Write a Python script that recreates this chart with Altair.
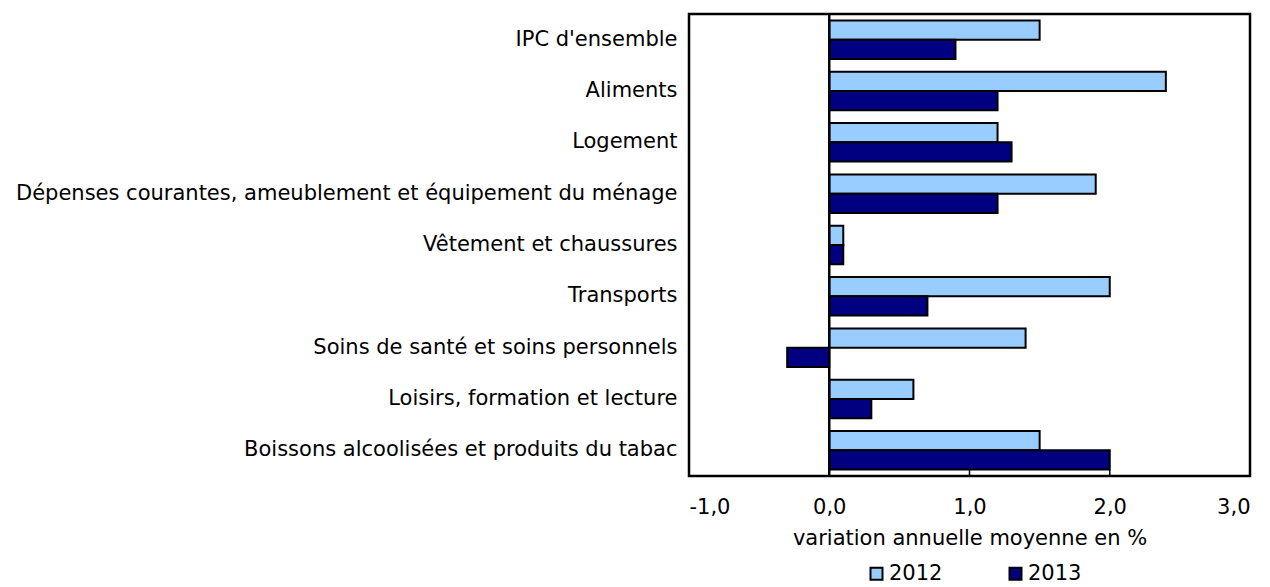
import altair as alt
import pandas as pd

categories = [
    "IPC d'ensemble",
    "Aliments",
    "Logement",
    "Dépenses courantes, ameublement et équipement du ménage",
    "Vêtement et chaussures",
    "Transports",
    "Soins de santé et soins personnels",
    "Loisirs, formation et lecture",
    "Boissons alcoolisées et produits du tabac",
]
v2012 = [1.5, 2.4, 1.2, 1.9, 0.1, 2.0, 1.4, 0.6, 1.5]
v2013 = [0.9, 1.2, 1.3, 1.2, 0.1, 0.7, -0.3, 0.3, 2.0]
years = ["2012", "2013"]
colors = ["#99CCFF", "#000080"]
tick_values = [-1, 0, 1, 2, 3]

rows = []
for c, a, b in zip(categories, v2012, v2013):
    rows.append({"cat": c, "year": "2012", "value": a})
    rows.append({"cat": c, "year": "2013", "value": b})
df = pd.DataFrame(rows)

FONT = "DejaVu Sans"
FS = 21
W, H = 561, 462

xscale = alt.Scale(domain=[-1, 3], nice=False, zero=False)

bars = alt.Chart(df).mark_bar(stroke="black", strokeWidth=2).encode(
    x=alt.X(
        "value:Q",
        scale=xscale,
        axis=alt.Axis(
            values=tick_values,
            labelExpr="replace(replace(format(datum.value, '.1f'), '.', ','), '\u2212', '-')",
            title="variation annuelle moyenne en %",
            grid=False,
            domain=False,
            ticks=False,
            labelPadding=20,
            labelFontSize=FS,
            labelFont=FONT,
            labelColor="black",
            titleFont=FONT,
            titleFontSize=FS,
            titleFontWeight="normal",
            titleColor="black",
            titlePadding=10,
        ),
    ),
    y=alt.Y(
        "cat:N",
        sort=categories,
        scale=alt.Scale(paddingInner=0.25, paddingOuter=0.125),
        axis=alt.Axis(
            title=None,
            domain=False,
            ticks=False,
            labelPadding=12,
            labelFontSize=FS,
            labelFont=FONT,
            labelColor="black",
            labelLimit=900,
        ),
    ),
    yOffset=alt.YOffset("year:N", sort=years, scale=alt.Scale(paddingInner=0, paddingOuter=0)),
    color=alt.Color(
        "year:N",
        sort=years,
        scale=alt.Scale(domain=years, range=colors),
        legend=alt.Legend(
            title=None,
            orient="none",
            legendX=177,
            legendY=549,
            padding=0,
            direction="horizontal",
            symbolType="square",
            symbolSize=144,
            symbolStrokeColor="black",
            symbolStrokeWidth=2,
            labelFont=FONT,
            labelFontSize=FS,
            labelColor="black",
            labelOffset=2,
            columnPadding=62,
        ),
    ),
)

tdf = pd.DataFrame({"t": [v for v in tick_values if v not in (-1, 3)]})
inner_ticks = alt.Chart(tdf).mark_rule(color="black", strokeWidth=1.5).encode(
    x=alt.X("t:Q", scale=xscale),
    y=alt.value(H - 6),
    y2=alt.value(H),
)

zdf = pd.DataFrame({"z": [0]})
zero_line = alt.Chart(zdf).mark_rule(color="black", strokeWidth=2.5).encode(
    x=alt.X("z:Q", scale=xscale),
)

chart = alt.layer(bars, inner_ticks, zero_line).properties(
    width=W,
    height=H,
    background="white",
    autosize=alt.AutoSizeParams(type="none"),
    padding={"left": 681, "top": 6, "right": 12, "bottom": 111},
).configure_view(
    stroke="black",
    strokeWidth=2.5,
)

chart.save("out.html", embed_options={"renderer": "svg", "actions": False})
